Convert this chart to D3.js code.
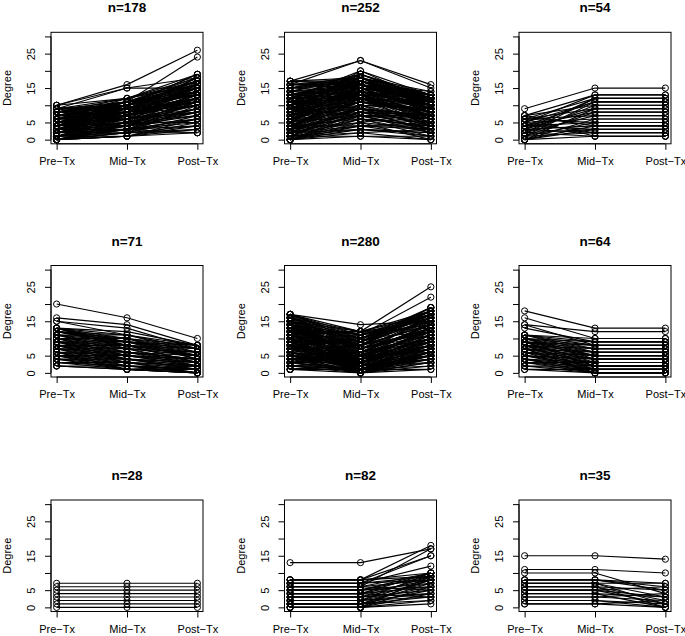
<!DOCTYPE html>
<html>
<head>
<meta charset="utf-8">
<script src="https://cdn.jsdelivr.net/npm/d3@7"></script>
<style>
  html, body { margin: 0; padding: 0; background: #fff; }
  svg { display: block; }
  text { font-family: "Liberation Sans", Arial, Helvetica, sans-serif; fill: #000; }
</style>
</head>
<body>
<svg id="chart" width="685" height="636"></svg>
<script>
// ---------- data ----------
const stages = ["Pre\u2212Tx", "Mid\u2212Tx", "Post\u2212Tx"];
const groupSizes = [178, 252, 54, 71, 280, 64, 28, 82, 35];
const yTicks = [0, 5, 10, 15, 20, 25, 30];
const yTickLabels = [0, 5, 15, 25];
const yLabel = "Degree";

// each entry: [Pre-Tx, Mid-Tx, Post-Tx] degree
const panel1 = [[10,16,26],[10,15,18],[9,15,15],[8,11,24],[10,12,19],[9,12,18],[8,11,17],[7,10,19],[7,11,16],[9,10,15],[8,10,14],[6,9,18],[6,10,17],[5,9,16],[6,8,15],[5,8,14],[4,9,17],[7,9,13],[4,8,12],[3,7,16],[5,7,13],[3,6,12],[4,7,11],[2,6,15],[3,5,10],[2,5,13],[1,4,14],[2,4,9],[1,3,11],[0,3,8],[1,2,7],[0,2,10],[0,1,6],[1,1,5],[0,1,3],[2,3,4],[3,4,6],[0,2,2],[1,3,9],[4,6,10],[5,6,8],[6,7,12],[2,5,7],[3,8,18],[4,10,16],[5,11,13],[6,12,17],[8,9,11],[9,11,14],[7,8,10],[0,4,12],[1,6,16],[2,7,14],[3,9,15],[4,5,5],[0,1,4],[5,10,19],[6,11,18],[2,2,3],[1,5,17],[3,3,2],
  [0,2,6],[1,4,8],[2,3,6],[3,5,8],[4,6,12],[5,7,10],[6,8,11],[7,9,14],[8,10,16],[9,10,13],[0,3,5],[1,2,4],[2,4,11],[3,6,9],[4,7,13],[5,8,12],[6,9,14],[7,10,15],[8,11,13],[9,9,12],[0,1,2],[1,3,6],[2,5,9],[3,7,12],[4,8,15],[5,9,11],[6,10,13],[7,11,17],[8,12,16],[9,8,10],[0,5,11],[1,7,13],[2,8,12],[3,10,14],[4,11,15],[5,4,7],[6,5,9],[7,6,8],[8,7,11],[9,6,10]];
const panel2 = [[17,23,16],[16,23,15],[12,20,13],[10,19,12],[8,20,11],[9,19,13],[15,17,12],[14,16,13],[15,16,10],[13,17,11],[14,18,12],[12,16,9],[11,17,13],[13,15,8],[12,14,10],[11,15,12],[10,16,8],[9,14,9],[10,13,11],[8,12,7],[9,15,6],[7,14,10],[6,12,8],[7,11,5],[5,10,9],[6,13,4],[5,9,6],[4,11,7],[3,8,5],[4,10,3],[2,7,6],[3,9,2],[1,6,4],[2,5,3],[0,4,1],[1,3,2],[0,2,0],[0,1,1],[1,2,3],[2,4,5],[3,5,0],[4,6,2],[5,7,3],[6,8,7],[7,9,4],[8,10,6],[9,11,9],[10,12,10],[11,13,7],[12,12,11],[13,14,12],[14,15,11],[16,18,13],[6,15,12],[4,13,9],[2,12,8],[1,10,5],[0,8,3],[3,16,10],[5,17,11],[7,18,9],[8,13,13],[11,9,4],[9,7,2],[0,5,8],[2,3,1],[1,1,0],[15,19,12],[16,17,12],[17,18,14],[3,7,7],[6,6,1],[4,4,4],
  [0,3,2],[1,4,3],[2,6,5],[3,8,7],[4,9,6],[5,11,8],[6,10,9],[7,12,11],[8,14,10],[9,13,12],[10,15,9],[11,16,11],[12,17,10],[13,18,13],[14,19,11],[15,18,13],[16,16,12],[17,17,13],[0,6,4],[1,8,6],[2,9,7],[3,11,8],[4,12,10],[5,14,9],[6,16,11],[7,15,12],[8,17,10],[9,18,11],[10,14,7],[11,12,6],[12,13,5],[13,12,4],[14,13,6],[15,14,7],[16,15,8],[17,16,9],[0,7,5],[1,9,7],[2,10,9],[3,13,11],[4,14,12],[5,15,13],[6,11,10],[7,13,8],[8,15,9],[9,16,10],[10,17,12],[11,18,10],[12,19,12],[13,16,14]];
const panel3 = [[9,15,15],[7,13,13],[6,12,12],[5,13,13],[4,11,11],[7,10,10],[3,12,12],[6,9,9],[5,11,11],[2,10,10],[4,8,8],[6,7,7],[3,9,9],[1,8,8],[5,6,6],[2,7,7],[0,6,6],[4,5,5],[1,5,5],[3,4,4],[0,4,4],[2,3,3],[1,2,2],[0,1,1],[3,2,2],[4,3,3],[6,5,5],[0,9,9],[1,11,11],[2,12,12],[7,4,4],[5,2,2],[6,1,1],[0,3,3],[2,1,1]];
const panel4 = [[20,16,10],[16,14,8],[15,13,7],[15,11,6],[13,11,8],[13,10,7],[12,10,8],[12,9,6],[11,8,5],[11,10,4],[10,9,7],[10,7,3],[9,8,5],[9,6,2],[8,7,6],[8,5,4],[7,6,3],[7,4,1],[6,5,2],[6,3,0],[5,4,3],[5,2,1],[4,3,2],[4,1,0],[3,2,1],[3,3,0],[2,1,0],[2,2,2],[13,9,5],[12,8,3],[11,6,4],[10,5,2],[9,4,1],[8,3,1],[7,2,0],[6,1,0],[12,11,7],[11,9,8],[13,7,6],[10,10,5],[9,9,4],[8,8,3],[7,7,2],[6,6,5],[5,5,4],[4,4,3],[3,1,1],[2,1,2],
  [13,12,8],[12,10,6],[11,11,7],[10,8,6],[9,7,5],[8,6,4],[7,5,3],[6,4,2],[5,3,2],[4,2,1],[3,2,0],[12,9,7],[11,7,5],[10,6,4],[9,5,3],[8,4,2],[7,3,2],[6,2,1],[5,1,0],[13,8,7]];
const panel5 = [[17,14,15],[16,12,25],[15,11,22],[17,9,19],[16,10,18],[15,12,17],[14,11,16],[13,10,19],[12,9,18],[14,8,17],[13,7,16],[12,12,15],[11,8,14],[10,6,13],[11,5,17],[9,7,12],[10,4,15],[8,6,16],[9,3,11],[7,5,14],[8,2,10],[6,4,13],[7,3,9],[5,2,12],[6,1,8],[4,3,11],[5,0,7],[3,1,10],[4,2,6],[2,0,5],[3,1,4],[1,0,3],[2,1,2],[1,1,1],[1,2,5],[2,3,8],[3,4,9],[4,5,12],[5,6,14],[6,7,15],[7,8,18],[8,9,17],[9,10,16],[10,11,14],[11,12,13],[12,7,11],[13,6,10],[14,5,9],[15,4,8],[16,3,7],[17,2,6],[15,9,19],[14,10,12],[13,11,18],[12,8,19],[11,6,10],[10,2,4],[9,1,3],[8,0,2],[7,0,1],[6,2,3],[5,3,5],[4,4,7],[3,5,6],[16,8,16],[17,6,14],[15,3,13],[14,2,11],[13,1,9],[12,0,6],[11,4,8],[10,8,18],[9,9,17],[8,10,15],[7,11,14],
  [17,12,18],[16,11,17],[15,10,16],[14,9,15],[13,8,14],[12,6,13],[11,7,12],[10,5,11],[9,4,10],[8,3,9],[7,2,8],[6,1,7],[5,1,6],[4,0,5],[3,0,4],[2,2,7],[1,3,9],[17,10,17],[16,9,15],[15,8,14],[14,7,13],[13,5,12],[12,4,10],[11,3,9],[10,1,8],[9,0,6],[8,1,5],[7,2,4],[6,3,6],[5,4,8],[4,5,10],[3,6,11],[2,4,12],[17,11,16],[16,7,13],[15,6,11],[14,4,10],[13,3,8],[12,2,7],[11,1,5],[10,0,3],[9,2,5],[8,4,7],[7,6,9],[6,8,12],[5,7,13],[4,6,14],[3,3,8],[2,1,6],[1,1,4]];
const panel6 = [[18,13,13],[16,10,10],[14,12,12],[13,9,9],[14,8,8],[11,10,10],[11,7,7],[10,9,9],[10,5,5],[9,8,8],[9,6,6],[8,7,7],[8,4,4],[7,6,6],[7,3,3],[6,5,5],[6,2,2],[5,4,4],[5,1,1],[4,3,3],[4,0,0],[3,2,2],[3,1,1],[2,1,1],[2,0,0],[1,0,0],[1,1,1],[10,8,8],[9,7,7],[8,5,5],[7,4,4],[6,3,3],[11,9,9],[10,6,6],[9,3,3],[8,2,2],[7,1,1],[6,0,0],[5,2,2],[4,1,1],[3,0,0],
  [11,8,8],[10,7,7],[9,5,5],[8,6,6],[7,5,5],[6,4,4],[5,3,3],[4,2,2],[3,3,3],[2,2,2],[11,6,6],[10,4,4],[9,2,2],[8,1,1],[7,0,0]];
const panel7 = [[0,0,0],[1,1,1],[2,2,2],[3,3,3],[4,4,4],[5,5,5],[6,6,6],[7,7,7]];
const panel8 = [[13,13,17],[8,8,18],[7,7,15],[8,8,15],[6,6,17],[7,7,12],[5,5,10],[8,8,9],[6,6,8],[4,4,10],[3,3,9],[5,5,7],[2,2,8],[4,4,6],[1,1,7],[3,3,5],[0,0,6],[2,2,4],[1,1,3],[0,0,2],[0,0,1],[1,1,5],[2,2,6],[3,3,7],[4,4,8],[5,5,9],[6,6,10],[7,7,9],[0,0,4],[1,1,2],[2,2,3],[3,3,4],[4,4,3],[5,5,6],[6,6,5],[7,7,8],[8,8,10],[0,0,9],[1,1,8],[2,2,10]];
const panel9 = [[15,15,14],[11,11,10],[10,10,4],[8,8,7],[8,8,6],[7,7,7],[7,7,3],[6,6,5],[6,6,2],[5,5,6],[5,5,1],[4,4,3],[4,4,0],[3,3,2],[3,3,4],[2,2,1],[2,2,0],[1,1,0],[1,1,2],[7,7,1],[6,6,0],[5,5,3],[8,8,5]];
const panels = [panel1, panel2, panel3, panel4, panel5, panel6, panel7, panel8, panel9];

// ---------- layout ----------
const colLeft = [51, 284.5, 519];
const rowTop = [32.3, 265.5, 500];
const W = 152, H = 111.5;

const svg = d3.select("#chart");

panels.forEach((data, i) => {
  const col = i % 3, row = Math.floor(i / 3);
  const left = colLeft[col], top = rowTop[row];
  const x = d3.scaleLinear().domain([0.92, 3.08]).range([left, left + W]);
  const y = d3.scaleLinear().domain([-1.2, 31.2]).range([top + H, top]);
  const g = svg.append("g");

  // lines
  const line = d3.line().x((d, k) => x(k + 1)).y(d => y(d));
  g.append("g").selectAll("path").data(data).join("path")
    .attr("d", d => line(d))
    .attr("fill", "none")
    .attr("stroke", "#000")
    .attr("stroke-width", 1.15);

  // points
  const pts = [];
  data.forEach(d => d.forEach((v, k) => pts.push([k + 1, v])));
  g.append("g").selectAll("circle").data(pts).join("circle")
    .attr("cx", d => x(d[0]))
    .attr("cy", d => y(d[1]))
    .attr("r", 3.1)
    .attr("fill", "none")
    .attr("stroke", "#000")
    .attr("stroke-width", 1);

  // box
  g.append("rect")
    .attr("x", left).attr("y", top).attr("width", W).attr("height", H)
    .attr("fill", "none").attr("stroke", "#000").attr("stroke-width", 1);

  // y axis
  const ya = g.append("g").attr("transform", `translate(${left},0)`)
    .call(d3.axisLeft(y).tickValues(yTicks).tickSize(6)
      .tickFormat(v => yTickLabels.includes(v) ? String(v) : ""));
  ya.select(".domain").attr("d", `M0,${y(0)}V${y(30)}`).attr("stroke", "#000");
  ya.selectAll(".tick line").attr("stroke", "#000");
  ya.selectAll(".tick text")
    .attr("x", null).attr("dy", null)
    .attr("transform", "translate(-20,0) rotate(-90)")
    .attr("text-anchor", "middle")
    .attr("dominant-baseline", "central")
    .style("font-size", "11px")
    .style("font-family", '"Liberation Sans", Arial, sans-serif')
    .attr("fill", "#000");

  // x axis
  const xa = g.append("g").attr("transform", `translate(0,${top + H})`)
    .call(d3.axisBottom(x).tickValues([1, 2, 3]).tickSize(6)
      .tickFormat((v) => stages[v - 1]));
  xa.select(".domain").attr("d", `M${x(1)},0H${x(3)}`).attr("stroke", "#000");
  xa.selectAll(".tick line").attr("stroke", "#000");
  xa.selectAll(".tick text")
    .attr("y", 21).attr("dy", null)
    .style("font-size", "11px")
    .style("font-family", '"Liberation Sans", Arial, sans-serif')
    .attr("fill", "#000");

  // y label
  g.append("text")
    .attr("transform", `translate(${left - 44},${top + H / 2}) rotate(-90)`)
    .attr("text-anchor", "middle")
    .attr("dominant-baseline", "central")
    .style("font-size", "11px")
    .text(yLabel);

  // title
  g.append("text")
    .attr("x", left + W / 2)
    .attr("y", top - 24.5)
    .attr("text-anchor", "middle")
    .attr("dominant-baseline", "central")
    .style("font-size", "13.5px")
    .style("font-weight", "bold")
    .text("n=" + groupSizes[i]);
});
</script>
</body>
</html>
